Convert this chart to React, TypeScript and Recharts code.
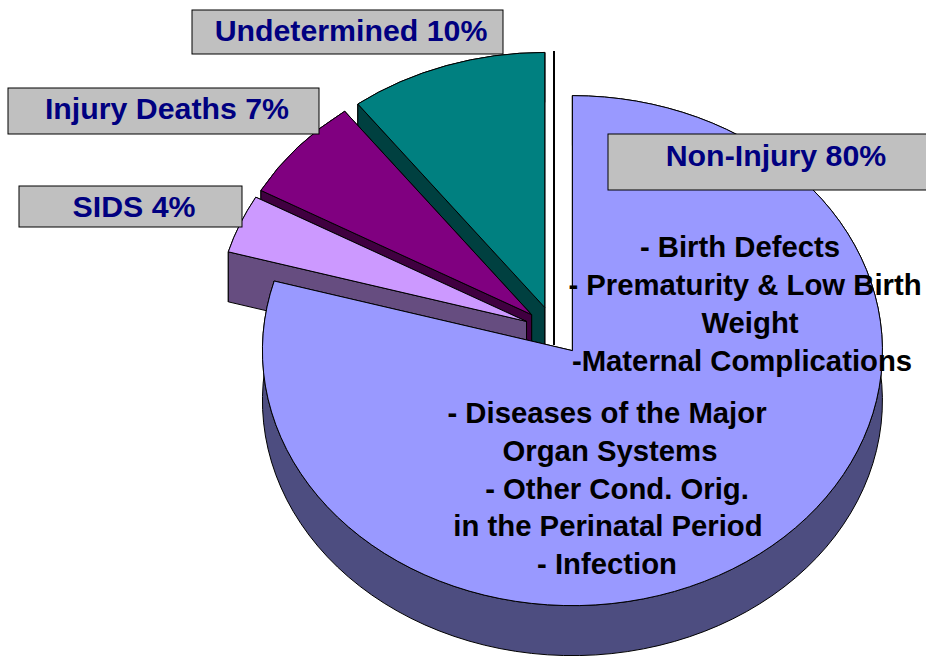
import React from 'react';
import { PieChart, Pie } from 'recharts';

const categories = ['Undetermined', 'Injury Deaths', 'SIDS', 'Non-Injury'];
// slice sizes as drawn, the printed labels are rounded
const values = [10.3, 6.6, 3.7, 79.4];
const topColors = ['#008080', '#800080', '#CC99FF', '#9999FF'];
const wallColors = ['#004040', '#400040', '#664D80', '#4D4D80'];

const boxLabels = ['Undetermined 10%', 'Injury Deaths 7%', 'SIDS 4%', 'Non-Injury 80%'];
const upperLines = ['- Birth Defects', '- Prematurity & Low Birth', 'Weight', '-Maternal Complications'];
const lowerLines = ['- Diseases of the Major', 'Organ Systems', '- Other Cond. Orig.', 'in the Perinatal Period', '- Infection'];

const boxes = [
  { x: 192, y: 10, w: 311, h: 44, tx: 351, ty: 41 },
  { x: 8, y: 88, w: 311, h: 46, tx: 167, ty: 119 },
  { x: 19, y: 186, w: 223, h: 41, tx: 134, ty: 217 },
  { x: 608, y: 134, w: 330, h: 56, tx: 776, ty: 166 },
];
const upperPos = [[740, 257], [745, 295], [750, 333], [742, 371]];
const lowerPos = [[607, 423], [610, 461], [617, 499], [608, 536], [607, 574]];

const pieData = categories.map((name, i) => ({
  name,
  value: values[i],
  fill: topColors[i],
  wall: wallColors[i],
}));

const WIDTH = 926;
const HEIGHT = 656;
const RX = 310;
const RY = 255;
const DEPTH = 50;
const EXPLODE = 0.097;
const RAD = Math.PI / 180;
const FONT = '"Liberation Sans", Arial, sans-serif';

// recharts only gives a circle, so squash each sector into an ellipse and extrude it
function Slice3D(props: any) {
  const { cx, cy, startAngle, endAngle, midAngle, fill, payload } = props;
  const ox = cx + EXPLODE * RX * Math.cos(midAngle * RAD);
  const oy = cy - EXPLODE * RY * Math.sin(midAngle * RAD);
  const at = (a: number, d = 0) => [ox + RX * Math.cos(a * RAD), oy - RY * Math.sin(a * RAD) + d];
  const [sx, sy] = at(startAngle);
  const [ex, ey] = at(endAngle);
  const large = Math.abs(endAngle - startAngle) > 180 ? 1 : 0;
  const line = { stroke: '#000', strokeWidth: 1, strokeLinejoin: 'round' as const };
  const wall = payload?.wall ?? props.wall;

  return (
    <g>
      <path
        d={`M${sx},${sy}A${RX},${RY} 0 ${large} 0 ${ex},${ey}L${ex},${ey + DEPTH}A${RX},${RY} 0 ${large} 1 ${sx},${sy + DEPTH}Z`}
        fill={wall}
        {...line}
      />
      <path d={`M${ox},${oy}L${sx},${sy}L${sx},${sy + DEPTH}L${ox},${oy + DEPTH}Z`} fill={wall} {...line} />
      <path d={`M${ox},${oy}L${ex},${ey}L${ex},${ey + DEPTH}L${ox},${oy + DEPTH}Z`} fill={wall} {...line} />
      <path d={`M${ox},${oy}L${sx},${sy}A${RX},${RY} 0 ${large} 0 ${ex},${ey}Z`} fill={fill} {...line} />
    </g>
  );
}

export default function App() {
  const textStyle = { fontFamily: FONT, fontWeight: 'bold' as const, textAnchor: 'middle' as const };
  return (
    <div style={{ position: 'absolute', left: 0, top: 0, width: WIDTH, height: HEIGHT, overflow: 'hidden', background: '#fff' }}>
      <PieChart width={WIDTH} height={HEIGHT} margin={{ top: 0, right: 0, bottom: 0, left: 0 }}>
        <Pie
          data={pieData}
          dataKey="value"
          cx={554.3}
          cy={330.9}
          outerRadius={RX}
          startAngle={90}
          endAngle={450}
          paddingAngle={0}
          shape={Slice3D}
          isAnimationActive={false}
        />
      </PieChart>
      {/* pie layer paints over chart children, so the callouts sit in their own svg */}
      <svg width={WIDTH} height={HEIGHT} style={{ position: 'absolute', left: 0, top: 0 }}>
        <line x1={554} y1={51} x2={554} y2={345} stroke="#000" strokeWidth={2} />
        {boxes.map((b, i) => (
          <g key={boxLabels[i]}>
            <rect x={b.x} y={b.y} width={b.w} height={b.h} fill="#C0C0C0" stroke="#000" strokeWidth={1} />
            <text x={b.tx} y={b.ty} fontSize={30.3} fill="#000080" {...textStyle}>
              {boxLabels[i]}
            </text>
          </g>
        ))}
        {upperLines.map((t, i) => (
          <text key={t} x={upperPos[i][0]} y={upperPos[i][1]} fontSize={29.3} fill="#000" {...textStyle}>
            {t}
          </text>
        ))}
        {lowerLines.map((t, i) => (
          <text key={t} x={lowerPos[i][0]} y={lowerPos[i][1]} fontSize={29.3} fill="#000" {...textStyle}>
            {t}
          </text>
        ))}
      </svg>
    </div>
  );
}
